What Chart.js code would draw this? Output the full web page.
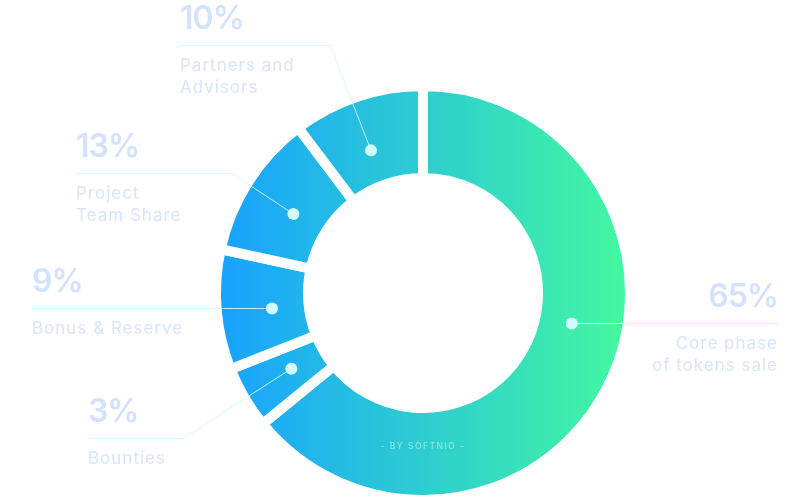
<!DOCTYPE html>
<html>
<head>
<meta charset="utf-8">
<script src="https://cdn.jsdelivr.net/npm/chart.js@4.4.1/dist/chart.umd.min.js"></script>
<style>
  html, body { margin: 0; padding: 0; background: #ffffff; }
  #wrap { width: 810px; height: 500px; position: relative; }
</style>
</head>
<body>
<div id="wrap"><canvas id="c"></canvas></div>
<script>
// ---- data ----
const categories = ['Core phase of tokens sale', 'Bounties', 'Bonus & Reserve', 'Project Team Share', 'Partners and Advisors'];
// arc sizes as they are drawn in the picture (share of the ring, %)
const arcShares = [64.1, 4.9, 9.4, 11.3, 10.3];
// percentages as printed in the labels
const percentLabels = ['65%', '3%', '9%', '13%', '10%'];
const labelLines = [['Core phase', 'of tokens sale'], ['Bounties'], ['Bonus & Reserve'], ['Project', 'Team Share'], ['Partners and', 'Advisors']];
const credit = '- BY SOFTNIO -';

// ---- annotation layout (positions/styles, not data) ----
const annotLayout = [
  { frac: 0.44, lineY: null, elbowX: null, lineEnd: 778, textX: 778, align: 'right' },
  { frac: 0.53, lineY: 438.5, elbowX: 183, lineEnd: 87,  textX: 88,  align: 'left' },
  { frac: 0.47, lineY: null, elbowX: null, lineEnd: 32,  textX: 32,  align: 'left' },
  { frac: 0.47, lineY: 173.5, elbowX: 232, lineEnd: 76,  textX: 76,  align: 'left' },
  { frac: 0.46, lineY: 45.5, elbowX: 330, lineEnd: 179, textX: 180, align: 'left' }
];
const FONT = "Inter, 'Open Sans', sans-serif";

const annotPlugin = {
  id: 'annot',
  afterDatasetsDraw(chart) {
    const ctx = chart.ctx;
    const arcs = chart.getDatasetMeta(0).data;
    let cx = 0, cy = 0;
    arcs.forEach((arc, i) => {
      const p = arc.getProps(['x', 'y', 'startAngle', 'endAngle', 'innerRadius', 'outerRadius'], true);
      cx = p.x; cy = p.y;
      const L = annotLayout[i];
      const a = p.startAngle + (p.endAngle - p.startAngle) * L.frac;
      const r = p.innerRadius + (p.outerRadius - p.innerRadius) * 0.4;
      const dx = p.x + Math.cos(a) * r;
      const dy0 = p.y + Math.sin(a) * r;
      const ly = L.lineY != null ? L.lineY : Math.round(dy0) + 0.5;
      const dy = L.lineY != null ? dy0 : ly;
      ctx.save();
      ctx.strokeStyle = 'rgba(210, 248, 255, 0.9)';
      ctx.lineWidth = 1;
      ctx.beginPath();
      ctx.moveTo(dx, dy);
      if (L.elbowX != null) ctx.lineTo(L.elbowX, ly);
      ctx.lineTo(L.lineEnd, ly);
      ctx.stroke();
      ctx.fillStyle = '#d3fbff';
      ctx.beginPath();
      ctx.arc(dx, dy, 6, 0, Math.PI * 2);
      ctx.fill();
      ctx.textAlign = L.align;
      ctx.textBaseline = 'alphabetic';
      ctx.fillStyle = '#d5e2fc';
      ctx.font = '600 32px ' + FONT;
      try { ctx.letterSpacing = '-1px'; } catch (e) {}
      ctx.fillText(percentLabels[i], L.textX, ly - 17);
      ctx.fillStyle = '#d9e5fb';
      ctx.font = '400 17px ' + FONT;
      try { ctx.letterSpacing = '1px'; } catch (e) {}
      labelLines[i].forEach((t, k) => ctx.fillText(t, L.textX, ly + 25 + k * 22));
      ctx.restore();
    });
    ctx.save();
    ctx.fillStyle = 'rgba(255,255,255,0.45)';
    ctx.font = '500 8.5px ' + FONT;
    ctx.textAlign = 'center';
    ctx.textBaseline = 'middle';
    try { ctx.letterSpacing = '1.5px'; } catch (e) {}
    ctx.fillText(credit, cx, cy + 153);
    ctx.restore();
  }
};

const ctxEl = document.getElementById('c');
new Chart(ctxEl, {
  type: 'doughnut',
  data: {
    labels: categories,
    datasets: [{
      data: arcShares,
      backgroundColor: (c) => {
        const chart = c.chart;
        const area = chart.chartArea;
        if (!area) return '#2cc8dc';
        const mx = (area.left + area.right) / 2;
        const g = chart.ctx.createLinearGradient(mx - 202, 0, mx + 202, 0);
        g.addColorStop(0, '#18a2ff');
        g.addColorStop(1, '#43f8a0');
        return g;
      },
      borderWidth: 10,
      borderColor: '#ffffff',
      borderAlign: 'center',
      borderJoinStyle: 'miter',
      spacing: 0,
      hoverOffset: 0
    }]
  },
  options: {
    responsive: true,
    maintainAspectRatio: false,
    animation: false,
    radius: 207,
    cutout: '55.56%',
    layout: { padding: { top: 86, bottom: 0, left: 217, right: 181 } },
    plugins: { legend: { display: false }, tooltip: { enabled: false } },
    events: []
  },
  plugins: [annotPlugin]
});
</script>
</body>
</html>
